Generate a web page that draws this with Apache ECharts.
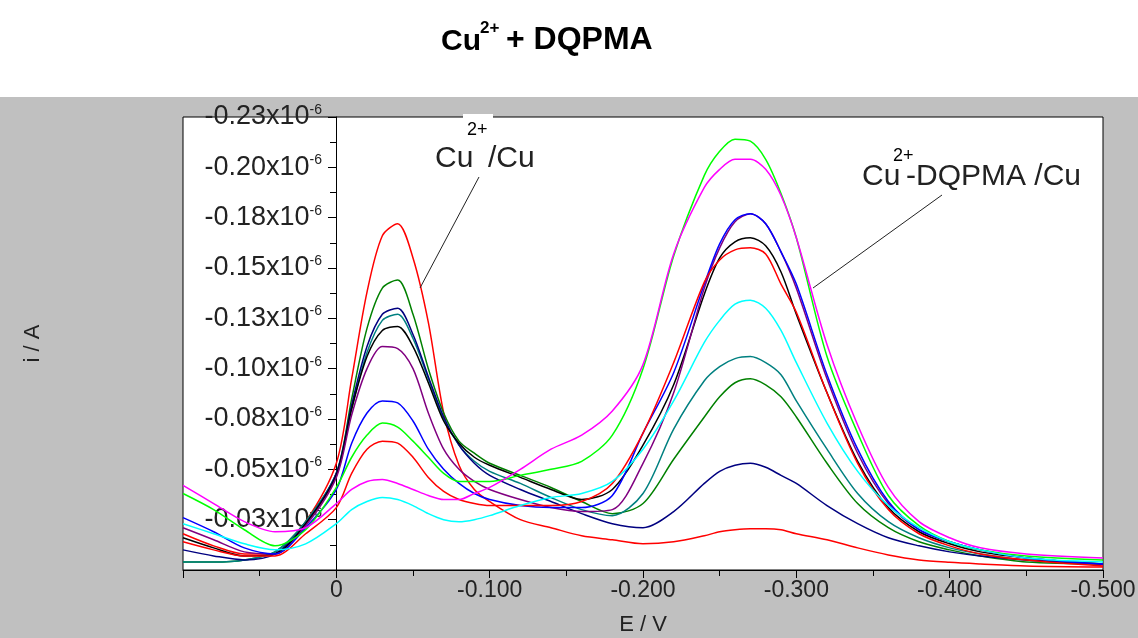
<!DOCTYPE html>
<html>
<head>
<meta charset="utf-8">
<title>Cu2+ + DQPMA</title>
<script src="https://cdn.jsdelivr.net/npm/echarts@6/dist/echarts.min.js"></script>
<style>
  html, body { margin: 0; padding: 0; background: #fff; }
  #chart { width: 1138px; height: 638px; }
</style>
</head>
<body>
<div id="chart"></div>
<script>
// potential E / V (shared sample points of every voltammogram)
var potentials = [0.1, 0.08, 0.06, 0.04, 0.02, 0, -0.01, -0.02, -0.03, -0.04, -0.05, -0.06, -0.07, -0.08, -0.09, -0.1,
  -0.12, -0.14, -0.16, -0.18, -0.2, -0.22, -0.24, -0.25, -0.26, -0.27, -0.28, -0.29, -0.3, -0.32, -0.34, -0.36,
  -0.38, -0.4, -0.42, -0.45, -0.5];

// current i, in units of 1e-6 A
var redHigh = [-0.018, -0.012, -0.008, -0.008, -0.024, -0.053, -0.095, -0.138, -0.166, -0.172, -0.155, -0.123, -0.078, -0.052, -0.040, -0.034,
  -0.025, -0.021, -0.017, -0.015, -0.013, -0.014, -0.017, -0.019, -0.020, -0.0205, -0.0205, -0.020, -0.018, -0.015, -0.011, -0.0075,
  -0.005, -0.0038, -0.003, -0.002, -0.0015];
var darkGreen = [-0.004, -0.004, -0.005, -0.009, -0.024, -0.048, -0.085, -0.120, -0.140, -0.144, -0.127, -0.100, -0.078, -0.064, -0.058, -0.053,
  -0.047, -0.041, -0.034, -0.028, -0.033, -0.055, -0.076, -0.086, -0.093, -0.095, -0.092, -0.086, -0.076, -0.053, -0.033, -0.021,
  -0.014, -0.010, -0.007, -0.004, -0.003];
var teal = [-0.004, -0.004, -0.005, -0.009, -0.024, -0.048, -0.080, -0.108, -0.124, -0.127, -0.115, -0.095, -0.075, -0.062, -0.054, -0.049,
  -0.043, -0.036, -0.030, -0.027, -0.038, -0.070, -0.094, -0.101, -0.105, -0.106, -0.103, -0.097, -0.084, -0.060, -0.038, -0.024,
  -0.016, -0.011, -0.008, -0.005, -0.003];
var navy = [-0.010, -0.007, -0.005, -0.008, -0.023, -0.048, -0.082, -0.111, -0.127, -0.130, -0.117, -0.096, -0.076, -0.062, -0.053, -0.047,
  -0.040, -0.034, -0.028, -0.023, -0.021, -0.029, -0.043, -0.049, -0.052, -0.053, -0.051, -0.047, -0.043, -0.032, -0.023, -0.016,
  -0.012, -0.009, -0.007, -0.005, -0.003];
var black = [-0.016, -0.011, -0.007, -0.008, -0.023, -0.047, -0.080, -0.106, -0.119, -0.121, -0.111, -0.093, -0.074, -0.063, -0.056, -0.052,
  -0.046, -0.040, -0.035, -0.040, -0.062, -0.092, -0.137, -0.155, -0.163, -0.165, -0.161, -0.148, -0.127, -0.088, -0.054, -0.031,
  -0.019, -0.013, -0.009, -0.006, -0.003];
var purple = [-0.021, -0.015, -0.009, -0.008, -0.022, -0.046, -0.077, -0.100, -0.111, -0.110, -0.100, -0.078, -0.060, -0.050, -0.044, -0.040,
  -0.035, -0.031, -0.029, -0.030, -0.053, -0.088, -0.140, -0.160, -0.173, -0.177, -0.172, -0.158, -0.140, -0.095, -0.058, -0.033,
  -0.020, -0.014, -0.010, -0.006, -0.003];
var blue = [-0.026, -0.019, -0.011, -0.008, -0.021, -0.040, -0.063, -0.078, -0.084, -0.083, -0.074, -0.060, -0.050, -0.043, -0.038, -0.035,
  -0.032, -0.031, -0.031, -0.037, -0.068, -0.098, -0.142, -0.162, -0.174, -0.177, -0.172, -0.158, -0.142, -0.097, -0.060, -0.034,
  -0.020, -0.014, -0.010, -0.006, -0.003];
var redLow = [-0.014, -0.010, -0.007, -0.007, -0.018, -0.031, -0.048, -0.060, -0.064, -0.063, -0.056, -0.046, -0.039, -0.035, -0.033, -0.032,
  -0.032, -0.032, -0.034, -0.043, -0.068, -0.103, -0.143, -0.154, -0.159, -0.160, -0.157, -0.142, -0.128, -0.088, -0.053, -0.030,
  -0.018, -0.012, -0.008, -0.005, -0.002];
var lime = [-0.038, -0.030, -0.020, -0.012, -0.020, -0.041, -0.056, -0.067, -0.073, -0.071, -0.064, -0.056, -0.048, -0.044, -0.044, -0.044,
  -0.047, -0.050, -0.054, -0.067, -0.100, -0.156, -0.196, -0.208, -0.214, -0.213, -0.204, -0.187, -0.165, -0.106, -0.068, -0.037,
  -0.022, -0.014, -0.010, -0.007, -0.005];
var magenta = [-0.042, -0.033, -0.024, -0.019, -0.021, -0.033, -0.040, -0.044, -0.045, -0.043, -0.040, -0.037, -0.035, -0.035, -0.038, -0.041,
  -0.050, -0.060, -0.067, -0.079, -0.102, -0.157, -0.190, -0.199, -0.204, -0.204, -0.199, -0.186, -0.165, -0.112, -0.072, -0.041,
  -0.024, -0.016, -0.011, -0.008, -0.006];
var cyan = [-0.023, -0.018, -0.013, -0.010, -0.013, -0.023, -0.030, -0.034, -0.036, -0.035, -0.032, -0.028, -0.025, -0.024, -0.025, -0.027,
  -0.032, -0.036, -0.038, -0.044, -0.060, -0.084, -0.113, -0.124, -0.132, -0.134, -0.130, -0.119, -0.103, -0.073, -0.049, -0.032,
  -0.021, -0.014, -0.010, -0.006, -0.004];

var curves = [
  { name: 'c1', color: '#ff0000', values: redHigh },
  { name: 'c2', color: '#008000', values: darkGreen },
  { name: 'c3', color: '#008080', values: teal },
  { name: 'c4', color: '#000080', values: navy },
  { name: 'c5', color: '#000000', values: black },
  { name: 'c6', color: '#800080', values: purple },
  { name: 'c7', color: '#0000ff', values: blue },
  { name: 'c8', color: '#ff0000', values: redLow },
  { name: 'c9', color: '#00ff00', values: lime },
  { name: 'c10', color: '#ff00ff', values: magenta },
  { name: 'c11', color: '#00ffff', values: cyan }
];

var FONT = '"Liberation Sans", Arial, sans-serif';
var chart = echarts.init(document.getElementById('chart'), null, { renderer: 'canvas' });

function yLabel(v) {
  if (Math.abs(v) < 1e-9) return '';
  var s = (Math.round(Math.abs(v) * 100 + 1e-6) / 100).toFixed(2);
  return '{a|-' + s + 'x10}{b|-6}';
}

function xLabel(v) {
  if (Math.abs(v) < 1e-9) return '0';
  if (v > 0) return '';
  return v.toFixed(3);
}

var option = {
  animation: false,
  backgroundColor: '#ffffff',
  grid: {
    left: 183, right: 35, top: 117, bottom: 68,
    outerBoundsMode: 'none',
    containLabel: false,
    show: true,
    backgroundColor: '#ffffff',
    borderColor: '#000000',
    borderWidth: 1
  },
  xAxis: {
    type: 'value',
    min: -0.5, max: 0.1, interval: 0.1,
    inverse: true,
    name: 'E / V',
    nameLocation: 'middle',
    nameGap: 44,
    nameTextStyle: { fontFamily: FONT, fontSize: 22, color: '#222' },
    axisLine: { onZero: false, lineStyle: { color: '#000', width: 1 } },
    axisTick: { show: true, length: 8, lineStyle: { color: '#000' } },
    minorTick: { show: true, splitNumber: 2, length: 6, lineStyle: { color: '#000' } },
    splitLine: { show: false },
    axisLabel: { formatter: xLabel, fontFamily: FONT, fontSize: 23, color: '#222', margin: 9 }
  },
  yAxis: {
    type: 'value',
    min: -0.225, max: 0, interval: 0.025,
    inverse: true,
    // the vertical axis sits on E = 0 (0.1 V of the 0.6 V span from the left edge)
    offset: -153,
    name: 'i / A',
    nameLocation: 'middle',
    nameGap: 292,
    nameTextStyle: { fontFamily: FONT, fontSize: 22, color: '#222' },
    axisLine: { onZero: false, lineStyle: { color: '#000', width: 1 } },
    axisTick: { show: true, length: 8, lineStyle: { color: '#000' } },
    minorTick: { show: true, splitNumber: 2, length: 6, lineStyle: { color: '#000' } },
    splitLine: { show: false },
    axisLabel: {
      formatter: yLabel,
      margin: 14,
      rich: {
        a: { fontFamily: FONT, fontSize: 27, color: '#222', lineHeight: 28 },
        b: { fontFamily: FONT, fontSize: 14, color: '#222', lineHeight: 14, verticalAlign: 'top' }
      }
    }
  },
  series: curves.map(function (c) {
    return {
      type: 'line',
      name: c.name,
      data: potentials.map(function (e, i) { return [e, c.values[i]]; }),
      showSymbol: false,
      smooth: 0.3,
      lineStyle: { color: c.color, width: 1.5 },
      itemStyle: { color: c.color },
      emphasis: { disabled: true },
      z: 3
    };
  }),
  graphic: [
    // grey panel behind the plot
    { type: 'rect', z: -10, silent: true, shape: { x: 0, y: 97, width: 1138, height: 541 }, style: { fill: '#c0c0c0' } },
    // title
    { type: 'text', z: 10, style: { x: 441, y: 42, text: 'Cu', font: 'bold 30px ' + FONT, fill: '#000', verticalAlign: 'middle' } },
    { type: 'text', z: 10, style: { x: 480, y: 28, text: '2+', font: 'bold 17px ' + FONT, fill: '#000', verticalAlign: 'middle' } },
    { type: 'text', z: 10, style: { x: 506, y: 40, text: '+ DQPMA', font: 'bold 32px ' + FONT, fill: '#000', verticalAlign: 'middle' } },
    // label Cu2+/Cu
    { type: 'rect', z: 50, silent: true, shape: { x: 463, y: 114, width: 30, height: 7 }, style: { fill: '#ffffff' } },
    { type: 'text', z: 60, style: { x: 435, y: 159, text: 'Cu', font: '30px ' + FONT, fill: '#222', verticalAlign: 'middle' } },
    { type: 'text', z: 60, style: { x: 467, y: 130, text: '2+', font: '18px ' + FONT, fill: '#000', verticalAlign: 'middle' } },
    { type: 'text', z: 60, style: { x: 488, y: 159, text: '/Cu', font: '30px ' + FONT, fill: '#222', verticalAlign: 'middle' } },
    { type: 'line', z: 60, shape: { x1: 479, y1: 177, x2: 420, y2: 288 }, style: { stroke: '#222', lineWidth: 1 } },
    // label Cu2+-DQPMA /Cu
    { type: 'text', z: 60, style: { x: 862, y: 177, text: 'Cu', font: '30px ' + FONT, fill: '#222', verticalAlign: 'middle' } },
    { type: 'text', z: 60, style: { x: 893, y: 156, text: '2+', font: '18px ' + FONT, fill: '#000', verticalAlign: 'middle' } },
    { type: 'text', z: 60, style: { x: 906, y: 177, text: '-DQPMA /Cu', font: '30px ' + FONT, fill: '#222', verticalAlign: 'middle' } },
    { type: 'line', z: 60, shape: { x1: 942, y1: 195, x2: 813, y2: 288 }, style: { stroke: '#222', lineWidth: 1 } }
  ]
};

chart.setOption(option);
</script>
</body>
</html>
